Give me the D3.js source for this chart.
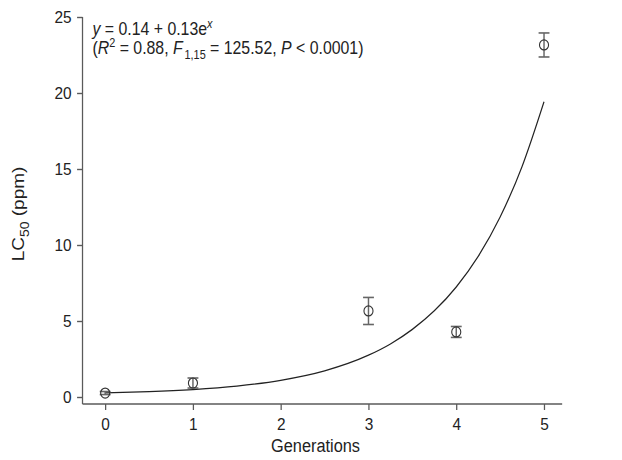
<!DOCTYPE html>
<html>
<head>
	<title>LC50 by generation</title>
	<style type="text/css">
		body{ margin:0; background:#fff; }
		text{ font-family: "Liberation Sans", Arial, sans-serif; fill:#222; }
	</style>
</head>
<body>

	<svg width=622 height=460 class="chart"></svg>
	<script type="text/javascript" src="https://cdn.jsdelivr.net/npm/d3@7/dist/d3.min.js"></script>
	<script type="text/javascript">

		// observed LC50 per generation (mean and error)
		generations = [0, 1, 3, 4, 5]
		lc50 = [0.26, 0.92, 5.66, 4.28, 23.16]
		lc50_err = [0.1, 0.33, 0.89, 0.36, 0.79]

		// fitted curve
		fit_x = [0, 0.5, 1, 1.5, 2, 2.5, 3, 3.25, 3.5, 3.75, 4, 4.25, 4.5, 4.75, 5]
		fit_y = [0.27, 0.35, 0.49, 0.72, 1.10, 1.72, 2.75, 3.49, 4.45, 5.67, 7.24, 9.25, 11.84, 15.17, 19.43]

		x_ticks = [0, 1, 2, 3, 4, 5]
		y_ticks = [0, 5, 10, 15, 20, 25]

		// the figure is laid out on a 686 wide frame, then squeezed into 622
		g = d3.select('.chart')
			.append('g')
			.attr('transform', 'scale(' + (622/686) + ',1)')

		x = d3.scaleLinear().domain([0, 5]).range([116, 600])
		y = d3.scaleLinear().domain([0, 25]).range([397, 17])

		axis_x = 91
		axis_y = 404
		axis_col = '#5a5a5a'
		font = '"Liberation Sans", Arial, sans-serif'

		// axes
		gx = g.append('g')
			.attr('transform', 'translate(0,' + axis_y + ')')
			.call(d3.axisBottom(x).tickValues(x_ticks).tickSize(6).tickPadding(8).tickFormat(d3.format('d')))
		gy = g.append('g')
			.attr('transform', 'translate(' + axis_x + ',0)')
			.call(d3.axisLeft(y).tickValues(y_ticks).tickSize(6).tickPadding(6).tickFormat(d3.format('d')))

		g.selectAll('.domain').remove()
		g.selectAll('.tick line').attr('stroke', axis_col).attr('stroke-width', 1.4)
		g.selectAll('.tick text').attr('font-size', 17).attr('fill', '#222').style('font-family', font)

		g.append('line')
			.attr('x1', axis_x).attr('x2', axis_x).attr('y1', y(25)).attr('y2', axis_y)
			.attr('stroke', axis_col).attr('stroke-width', 1.4)
		g.append('line')
			.attr('x1', axis_x).attr('x2', 620).attr('y1', axis_y).attr('y2', axis_y)
			.attr('stroke', axis_col).attr('stroke-width', 1.4)

		// fitted curve
		line = d3.line()
			.x(function(d, i){ return x(fit_x[i]) })
			.y(function(d){ return y(d) })
			.curve(d3.curveMonotoneX)

		g.append('path')
			.datum(fit_y)
			.attr('d', line)
			.attr('fill', 'none')
			.attr('stroke', '#222')
			.attr('stroke-width', 1.3)

		// error bars and points
		pts = g.append('g')
			.selectAll('g')
			.data(generations)
			.enter()
			.append('g')

		pts.append('line')
			.attr('x1', function(d){ return x(d) })
			.attr('x2', function(d){ return x(d) })
			.attr('y1', function(d, i){ return y(lc50[i] + lc50_err[i]) })
			.attr('y2', function(d, i){ return y(lc50[i] - lc50_err[i]) })
			.attr('stroke', '#666').attr('stroke-width', 1.6)

		;[1, -1].forEach(function(s){
			pts.append('line')
				.attr('x1', function(d){ return x(d) - 6 })
				.attr('x2', function(d){ return x(d) + 6 })
				.attr('y1', function(d, i){ return y(lc50[i] + s*lc50_err[i]) })
				.attr('y2', function(d, i){ return y(lc50[i] + s*lc50_err[i]) })
				.attr('stroke', '#666').attr('stroke-width', 1.6)
		})

		pts.append('circle')
			.attr('cx', function(d){ return x(d) })
			.attr('cy', function(d, i){ return y(lc50[i]) })
			.attr('r', 5)
			.attr('fill', 'none')
			.attr('stroke', '#333')
			.attr('stroke-width', 1.2)

		// axis titles
		g.append('text')
			.attr('x', 348).attr('y', 452)
			.attr('text-anchor', 'middle')
			.attr('font-size', 18)
			.text('Generations')

		yl = g.append('text')
			.attr('transform', 'translate(27,214) rotate(-90)')
			.attr('text-anchor', 'middle')
			.attr('font-size', 19)
		yl.append('tspan').text('LC')
		yl.append('tspan').attr('font-size', 14).attr('dy', 5).text('50')
		yl.append('tspan').attr('dy', -5).text(' (ppm)')

		// equation
		eq1 = g.append('text').attr('x', 102).attr('y', 35).attr('font-size', 17.5)
		eq1.append('tspan').attr('font-style', 'italic').text('y')
		eq1.append('tspan').text(' = 0.14 + 0.13e')
		eq1.append('tspan').attr('font-style', 'italic').attr('font-size', 12).attr('dy', -7).text('x')

		eq2 = g.append('text').attr('x', 102).attr('y', 54).attr('font-size', 17.5)
		eq2.append('tspan').text('(')
		eq2.append('tspan').attr('font-style', 'italic').text('R')
		eq2.append('tspan').attr('font-size', 12).attr('dy', -7).text('2')
		eq2.append('tspan').attr('dy', 7).text(' = 0.88, ')
		eq2.append('tspan').attr('font-style', 'italic').text('F')
		eq2.append('tspan').attr('font-size', 12).attr('dy', 5).attr('dx', 2).text('1,15')
		eq2.append('tspan').attr('dy', -5).text(' = 125.52, ')
		eq2.append('tspan').attr('font-style', 'italic').text('P')
		eq2.append('tspan').text(' < 0.0001)')

	</script>
	
</body>
</html>
